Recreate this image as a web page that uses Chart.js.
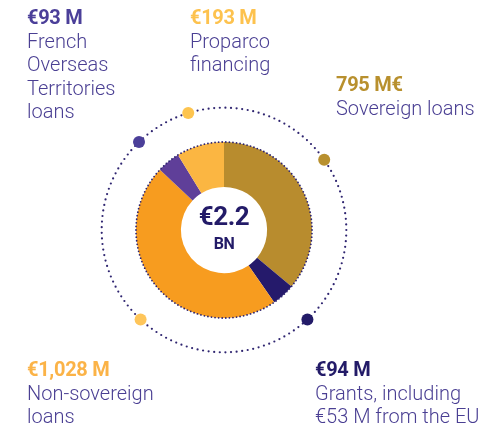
<!DOCTYPE html>
<html>
<head>
<meta charset="utf-8">
<script src="https://cdn.jsdelivr.net/npm/chart.js@4.4.0/dist/chart.umd.min.js"></script>
<style>
  html, body { margin: 0; padding: 0; background: #fff; }
  #wrap { position: relative; width: 496px; height: 430px; overflow: hidden; font-family: Roboto, 'Noto Sans', sans-serif; }
  canvas { position: absolute; left: 0; top: 0; }
  .lbl { position: absolute; color: #4a3f93; font-size: 20px; font-weight: 300; line-height: 23.5px; white-space: nowrap; }
  .lbl b { display: block; font-weight: 700; letter-spacing: -0.3px; }
  .center { position: absolute; left: 174px; width: 100px; text-align: center; color: #231b68; font-weight: 700; letter-spacing: -0.5px; }
</style>
</head>
<body>
<div id="wrap">
  <canvas id="chart" width="496" height="430"></canvas>
  <div class="lbl" style="left:27px;top:6px"><b style="color:#4b3f99">€93 M</b>French<br>Overseas<br>Territories<br>loans</div>
  <div class="lbl" style="left:190px;top:6px"><b style="color:#fdc24e">€193 M</b>Proparco<br>financing</div>
  <div class="lbl" style="left:336px;top:73px"><b style="color:#b8902e">795 M€</b>Sovereign loans</div>
  <div class="lbl" style="left:27px;top:358px"><b style="color:#fbb347">€1,028 M</b>Non-sovereign<br>loans</div>
  <div class="lbl" style="left:315px;top:358px"><b style="color:#231b68">€94 M</b>Grants, including<br>€53 M from the EU</div>
  <div class="center" style="top:201px;font-size:26px">€2.2</div>
  <div class="center" style="top:234px;font-size:16px">BN</div>
</div>
<script>
//////////////////////////////////////////////////
// Data (M€)

const categories = ['Sovereign loans', 'Grants', 'Non-sovereign loans', 'French Overseas Territories loans', 'Proparco financing']
const amounts = [795, 94, 1028, 93, 193]
const sliceColors = ['#b88c2e', '#251a6b', '#f79c1f', '#5f3f99', '#fbb642']

// Marker dots on the outer dotted ring (degrees clockwise from top)
const markerAngles = [55, 137, 223, -44, -17]
const markerColors = ['#b8902e', '#231b68', '#fec55a', '#4b3f99', '#fdc44f']

//////////////////////////////////////////////////
// Dotted rings + markers

const dottedCircle = (ctx, x, y, r, step, dotR, color) => {
  const n = Math.round((2 * Math.PI * r) / step)
  ctx.fillStyle = color
  for (let i = 0; i < n; ++i) {
    const a = (i / n) * 2 * Math.PI
    ctx.beginPath()
    ctx.arc(x + r * Math.cos(a), y + r * Math.sin(a), dotR, 0, 2 * Math.PI)
    ctx.fill()
  }
}

const ringPlugin = {
  id: 'ring',
  afterDatasetsDraw (chart) {
    const arc = chart.getDatasetMeta(0).data[0]
    const { x, y, outerRadius } = arc
    const ctx = chart.ctx
    ctx.save()
    dottedCircle(ctx, x, y, outerRadius, 3.6, 0.9, '#2e2470')
    const ringR = outerRadius * 1.39
    dottedCircle(ctx, x, y, ringR, 5.6, 1.1, '#2e2470')
    markerAngles.forEach((deg, i) => {
      const a = (deg - 90) * Math.PI / 180
      ctx.fillStyle = markerColors[i]
      ctx.beginPath()
      ctx.arc(x + ringR * Math.cos(a), y + ringR * Math.sin(a), 6, 0, 2 * Math.PI)
      ctx.fill()
    })
    ctx.restore()
  }
}

new Chart(document.getElementById('chart'), {
  type: 'doughnut',
  plugins: [ringPlugin],
  data: {
    labels: categories,
    datasets: [{
      data: amounts,
      backgroundColor: sliceColors,
      borderWidth: 0
    }]
  },
  options: {
    responsive: false,
    animation: false,
    cutout: '49%',
    layout: { padding: { left: 136, right: 184, top: 142, bottom: 112 } },
    plugins: {
      legend: { display: false },
      tooltip: { enabled: false }
    }
  }
})
</script>
</body>
</html>
